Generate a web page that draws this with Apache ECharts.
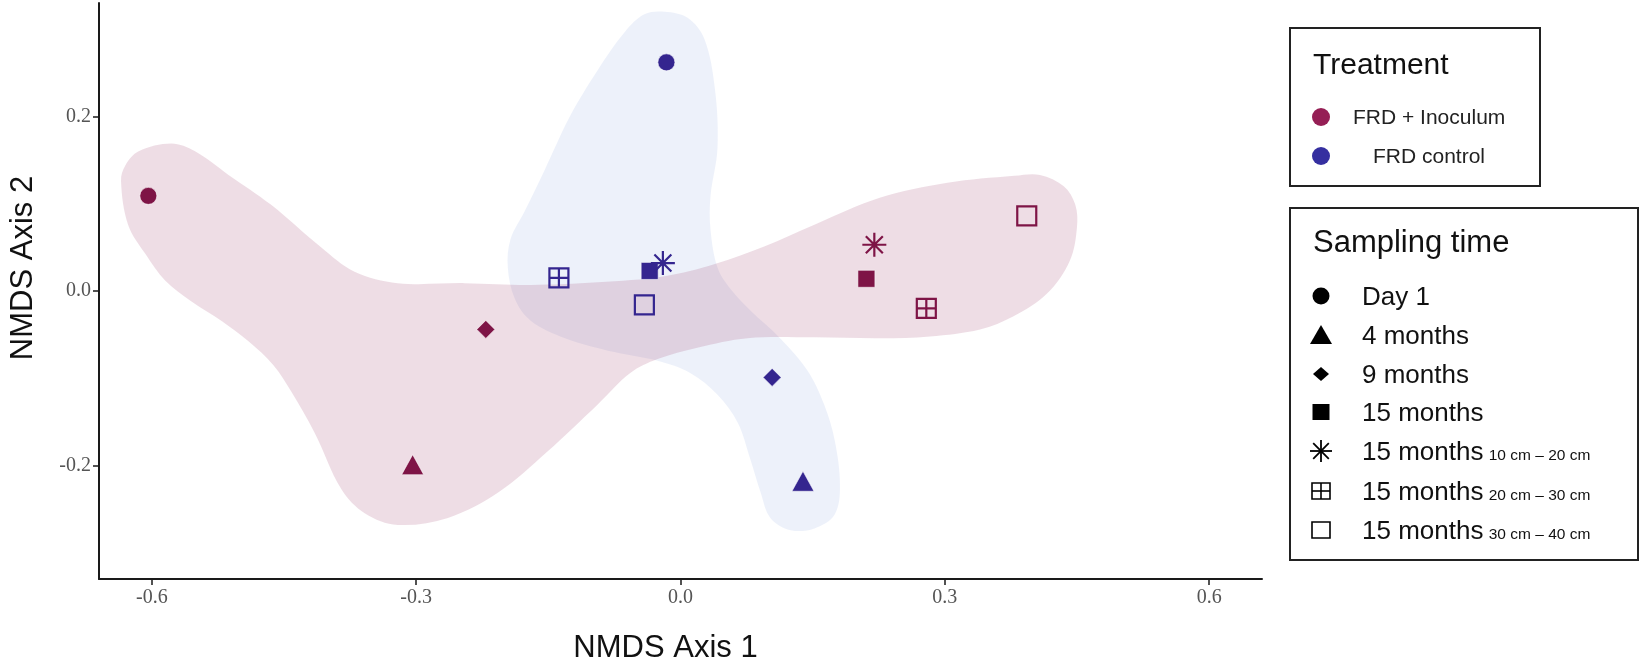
<!DOCTYPE html>
<html>
<head>
<meta charset="utf-8">
<script src="https://cdn.jsdelivr.net/npm/echarts@6/dist/echarts.min.js"></script>
<style>
  html, body { margin: 0; padding: 0; background: #fff; }
  #chart { width: 1642px; height: 669px; }
</style>
</head>
<body>
<div id="chart"></div>
<script>
// axis ticks
const xTicks = [-0.6, -0.3, 0, 0.3, 0.6]
const yTicks = [-0.2, 0, 0.2]

const samplingTimes = ['Day 1', '4 months', '9 months', '15 months',
  '15 months 10 cm – 20 cm', '15 months 20 cm – 30 cm', '15 months 30 cm – 40 cm']

// NMDS scores, same order as samplingTimes
const inoculumX = [-0.604, -0.304, -0.221, 0.211, 0.220, 0.279, 0.393]
const inoculumY = [0.109, -0.199, -0.044, 0.014, 0.053, -0.020, 0.086]
const controlX = [-0.016, 0.139, 0.104, -0.035, -0.020, -0.138, -0.041]
const controlY = [0.262, -0.218, -0.099, 0.023, 0.032, 0.015, -0.016]

// hull outlines (data units)
const inoculumHullX = [-0.635, -0.630, -0.615, -0.578, -0.551, -0.513, -0.465, -0.408, -0.370, -0.321,
  -0.245, -0.170, -0.094, -0.018, 0.039, 0.095, 0.152, 0.227, 0.303, 0.379, 0.408, 0.435, 0.448, 0.450,
  0.442, 0.416, 0.378, 0.340, 0.283, 0.227, 0.152, 0.076, 0.019, -0.026, -0.057, -0.094, -0.151, -0.207,
  -0.264, -0.321, -0.358, -0.385, -0.415, -0.442, -0.462, -0.490, -0.520, -0.555, -0.585, -0.607, -0.627]
const inoculumHullY = [0.126, 0.144, 0.160, 0.169, 0.160, 0.133, 0.099, 0.050, 0.022, 0.009,
  0.009, 0.007, 0.010, 0.017, 0.031, 0.051, 0.076, 0.107, 0.124, 0.132, 0.133, 0.120, 0.099, 0.073,
  0.035, -0.003, -0.029, -0.044, -0.052, -0.054, -0.053, -0.054, -0.065, -0.078, -0.094, -0.130, -0.184, -0.231,
  -0.260, -0.268, -0.255, -0.227, -0.163, -0.115, -0.085, -0.058, -0.035, -0.012, 0.012, 0.042, 0.076]
const controlHullX = [-0.018, 0.008, 0.027, 0.039, 0.042, 0.034, 0.034, 0.042, 0.057, 0.079, 0.113, 0.144,
  0.163, 0.175, 0.181, 0.175, 0.152, 0.125, 0.102, 0.091, 0.079, 0.065, 0.042, 0.011, -0.026, -0.075,
  -0.131, -0.170, -0.188, -0.196, -0.193, -0.177, -0.154, -0.125, -0.094, -0.063, -0.041]
const controlHullY = [0.320, 0.313, 0.289, 0.232, 0.164, 0.108, 0.071, 0.027, 0.002, -0.022, -0.054, -0.091,
  -0.130, -0.171, -0.223, -0.256, -0.272, -0.274, -0.260, -0.231, -0.192, -0.151, -0.119, -0.094, -0.080, -0.070,
  -0.054, -0.034, -0.009, 0.027, 0.059, 0.091, 0.139, 0.201, 0.253, 0.297, 0.317]

const inoculumColor = '#7e1446'
const controlColor = '#34258f'

// one marker per sampling time
const asteriskPath = 'path://M10,0V20M0,10H20M2.93,2.93L17.07,17.07M2.93,17.07L17.07,2.93'
const gridPath = 'path://M0,0H20V20H0Z M10,0V20 M0,10H20'
const markers = [
  { symbol: 'circle', size: 17, open: false },
  { symbol: 'triangle', size: [22, 20], open: false },
  { symbol: 'diamond', size: 18, open: false },
  { symbol: 'rect', size: 17, open: false },
  { symbol: asteriskPath, size: 24, open: true },
  { symbol: gridPath, size: 19, open: true },
  { symbol: 'rect', size: 19, open: true }
]

function pointData(xs, ys, color) {
  return xs.map((x, i) => {
    const m = markers[i]
    return {
      name: samplingTimes[i],
      value: [x, ys[i]],
      symbol: m.symbol,
      symbolSize: m.size,
      itemStyle: m.open
        ? { color: 'transparent', borderColor: color, borderWidth: 2.2, opacity: 1 }
        : { color: color, borderColor: 'rgba(255,255,255,0.7)', borderWidth: 0.8, opacity: 1 }
    }
  })
}

function hullSeries(name, hx, hy, fill) {
  return {
    name: name,
    type: 'custom',
    silent: true,
    z: 1,
    data: [[0, 0]],
    renderItem: function (params, api) {
      const pts = hx.map((x, i) => api.coord([x, hy[i]]))
      return {
        type: 'polygon',
        shape: { points: pts, smooth: 0.35 },
        style: { fill: fill, stroke: null }
      }
    }
  }
}

// legend (drawn as graphic)
const L = { x: 1290, symX: 1321 }
const sans = '"Liberation Sans", Arial, sans-serif'
const rowY = [296, 335, 374, 412, 451, 491, 530]
const subLabels = ['', '', '', '', '10 cm – 20 cm', '20 cm – 30 cm', '30 cm – 40 cm']
const mainLabels = ['Day 1', '4 months', '9 months', '15 months', '15 months', '15 months', '15 months']

function legendGraphic() {
  const g = []
  // Treatment box
  g.push({ type: 'rect', shape: { x: L.x, y: 28, width: 250, height: 158 },
    style: { fill: '#fff', stroke: '#222', lineWidth: 2 }, z: 10 })
  g.push({ type: 'text', z: 11, style: { x: 1313, y: 66, text: 'Treatment', font: '30px ' + sans,
    fill: '#111', verticalAlign: 'middle' } })
  g.push({ type: 'circle', z: 11, shape: { cx: L.symX, cy: 117, r: 9 }, style: { fill: '#951f55' } })
  g.push({ type: 'circle', z: 11, shape: { cx: L.symX, cy: 156, r: 9 }, style: { fill: '#352fa0' } })
  g.push({ type: 'text', z: 11, style: { x: 1353, y: 118, text: 'FRD + Inoculum', font: '21px ' + sans,
    fill: '#222', verticalAlign: 'middle' } })
  g.push({ type: 'text', z: 11, style: { x: 1373, y: 157, text: 'FRD control', font: '21px ' + sans,
    fill: '#222', verticalAlign: 'middle' } })

  // Sampling time box
  g.push({ type: 'rect', shape: { x: L.x, y: 208, width: 348, height: 352 },
    style: { fill: '#fff', stroke: '#222', lineWidth: 2 }, z: 10 })
  g.push({ type: 'text', z: 11, style: { x: 1313, y: 243, text: 'Sampling time', font: '31px ' + sans,
    fill: '#111', verticalAlign: 'middle' } })

  const k = '#000'
  const cx = L.symX
  g.push({ type: 'circle', z: 11, shape: { cx: cx, cy: rowY[0], r: 8.5 }, style: { fill: k } })
  g.push({ type: 'polygon', z: 11, shape: { points: [[cx - 11, rowY[1] + 9], [cx + 11, rowY[1] + 9], [cx, rowY[1] - 10]] },
    style: { fill: k } })
  g.push({ type: 'polygon', z: 11, shape: { points: [[cx, rowY[2] - 7], [cx + 8, rowY[2]], [cx, rowY[2] + 7], [cx - 8, rowY[2]]] },
    style: { fill: k } })
  g.push({ type: 'rect', z: 11, shape: { x: cx - 8.5, y: rowY[3] - 8, width: 17, height: 16 }, style: { fill: k } })
  // asterisk
  const ay = rowY[4], r = 11, d = 7.8
  ;[[0, -r, 0, r], [-r, 0, r, 0], [-d, -d, d, d], [-d, d, d, -d]].forEach(s => {
    g.push({ type: 'line', z: 11, shape: { x1: cx + s[0], y1: ay + s[1], x2: cx + s[2], y2: ay + s[3] },
      style: { stroke: k, lineWidth: 1.8 } })
  })
  // grid square
  const gy = rowY[5]
  g.push({ type: 'rect', z: 11, shape: { x: cx - 9, y: gy - 8, width: 18, height: 16 },
    style: { fill: 'none', stroke: k, lineWidth: 1.6 } })
  g.push({ type: 'line', z: 11, shape: { x1: cx, y1: gy - 8, x2: cx, y2: gy + 8 }, style: { stroke: k, lineWidth: 1.6 } })
  g.push({ type: 'line', z: 11, shape: { x1: cx - 9, y1: gy, x2: cx + 9, y2: gy }, style: { stroke: k, lineWidth: 1.6 } })
  // open square
  g.push({ type: 'rect', z: 11, shape: { x: cx - 9, y: rowY[6] - 8, width: 18, height: 16 },
    style: { fill: 'none', stroke: k, lineWidth: 1.6 } })

  rowY.forEach((y, i) => {
    const txt = subLabels[i] ? '{m|' + mainLabels[i] + '} {s|' + subLabels[i] + '}' : '{m|' + mainLabels[i] + '}'
    g.push({ type: 'text', z: 11, style: {
      x: 1362, y: y, text: txt, verticalAlign: 'middle', fill: '#111',
      rich: {
        m: { fontFamily: sans, fontSize: 26, fill: '#111', verticalAlign: 'bottom', lineHeight: 30 },
        s: { fontFamily: sans, fontSize: 15.5, fill: '#111', verticalAlign: 'bottom', lineHeight: 30, padding: [0, 0, 2, 2] }
      }
    } })
  })
  return g
}

const chart = echarts.init(document.getElementById('chart'))

const option = {
  animation: false,
  backgroundColor: '#fff',
  grid: { left: 97, right: 380, top: 3, bottom: 85 },
  xAxis: {
    type: 'value',
    min: -0.66,
    max: 0.66,
    name: 'NMDS Axis 1',
    nameLocation: 'middle',
    nameGap: 54,
    nameTextStyle: { fontFamily: sans, fontSize: 31, color: '#111', padding: [0, 30, 0, 0] },
    axisLine: { show: true, onZero: false, lineStyle: { color: '#1a1a1a', width: 2 } },
    axisTick: { show: true, customValues: xTicks, length: 6, lineStyle: { color: '#1a1a1a', width: 1.5 } },
    axisLabel: {
      customValues: xTicks,
      formatter: v => v.toFixed(1),
      fontFamily: '"Liberation Serif", serif',
      fontSize: 20,
      color: '#555',
      margin: 9
    },
    splitLine: { show: false }
  },
  yAxis: {
    type: 'value',
    min: -0.33,
    max: 0.33,
    name: 'NMDS Axis 2',
    nameLocation: 'middle',
    nameGap: 60,
    nameTextStyle: { fontFamily: sans, fontSize: 31, color: '#111', padding: [0, 0, 0, 46] },
    axisLine: { show: true, onZero: false, lineStyle: { color: '#1a1a1a', width: 2 } },
    axisTick: { show: true, customValues: yTicks, length: 6, lineStyle: { color: '#1a1a1a', width: 1.5 } },
    axisLabel: {
      customValues: yTicks,
      formatter: v => v.toFixed(1),
      fontFamily: '"Liberation Serif", serif',
      fontSize: 20,
      color: '#555',
      margin: 8
    },
    splitLine: { show: false }
  },
  series: [
    hullSeries('FRD control hull', controlHullX, controlHullY, 'rgba(95,125,205,0.11)'),
    hullSeries('FRD + Inoculum hull', inoculumHullX, inoculumHullY, 'rgba(150,45,95,0.16)'),
    {
      name: 'FRD + Inoculum',
      type: 'scatter',
      z: 3,
      data: pointData(inoculumX, inoculumY, inoculumColor)
    },
    {
      name: 'FRD control',
      type: 'scatter',
      z: 3,
      data: pointData(controlX, controlY, controlColor)
    }
  ],
  graphic: legendGraphic()
}

chart.setOption(option)
</script>
</body>
</html>
